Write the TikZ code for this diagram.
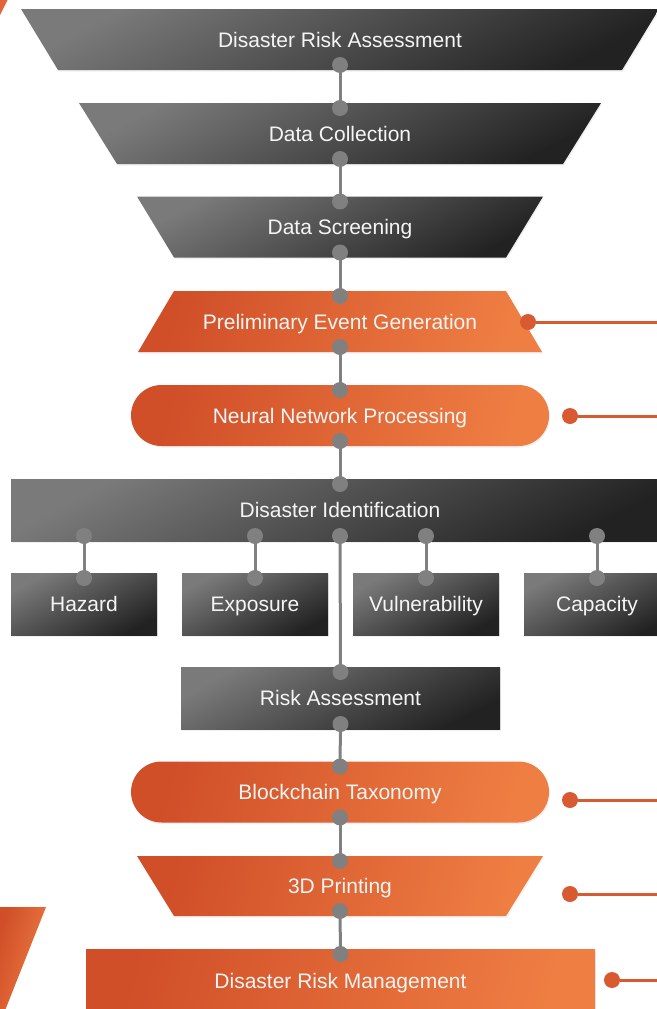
\documentclass[tikz,border=0pt]{standalone}
\usepackage{fontspec}
\setmainfont{Liberation Sans}
\usetikzlibrary{calc,shapes.misc,shadows}

\definecolor{gtop}{RGB}{122,122,122}
\definecolor{gbot}{RGB}{34,34,34}
\definecolor{oleft}{RGB}{208,78,40}
\definecolor{oright}{RGB}{239,126,67}
\definecolor{omid}{RGB}{226,100,55}
\definecolor{connc}{RGB}{128,128,128}
\definecolor{markc}{RGB}{216,90,48}
\definecolor{txt}{RGB}{245,245,245}

\begin{document}
\begin{tikzpicture}[x=1pt,y=-1pt,
  shd/.style={drop shadow={shadow xshift=1pt,shadow yshift=-1.5pt,opacity=0.12}},
  gshade/.style={top color=gtop,bottom color=gbot,shading angle=28},
  oshade/.style={left color=oleft,right color=oright,shading angle=75},
  lbl/.style={text=txt,font=\fontsize{21}{25}\selectfont,inner sep=0pt,outer sep=0pt,
    text height=15.5pt,text depth=0pt,align=center},
  gbox/.style={lbl,rectangle,gshade,shd},
  obox/.style={lbl,rectangle,oshade,shd},
  opill/.style={lbl,rounded rectangle,oshade,shd},
  link/.style={draw=connc,line width=3pt},
  cdot/.style={circle,fill=connc,minimum size=16pt,inner sep=0pt,outer sep=0pt},
  mdot/.style={circle,fill=markc,minimum size=16pt,inner sep=0pt,outer sep=0pt},
  mline/.style={draw=markc,line width=3pt}]

\useasboundingbox (0,0) rectangle (656,1009);

% decorative orange pieces
\fill[omid] (-1,-1) -- (8,-1) -- (-1,17) -- cycle;
\path[oshade] (-1,907) -- (46,907) -- (4,1013) -- (-1,1013) -- cycle;

% trapezoid backgrounds
\path[gshade,shd] (21,9) -- (659,9) -- (622,70) -- (58,70) -- cycle;
\path[gshade,shd] (79,103) -- (601,103) -- (563,164) -- (117,164) -- cycle;
\path[gshade,shd] (137,196.5) -- (543,196.5) -- (506,257.5) -- (174,257.5) -- cycle;
\path[oshade,shd] (174,291) -- (506,291) -- (542,352) -- (138,352) -- cycle;
\path[oshade,shd] (137,856) -- (543,856) -- (506,916) -- (174,916) -- cycle;

% nodes
\node[lbl,minimum width=564,minimum height=61] (dra) at (340,39.5) {Disaster Risk Assessment};
\node[lbl,minimum width=446,minimum height=61] (dc) at (340,133.5) {Data Collection};
\node[lbl,minimum width=332,minimum height=61] (ds) at (340,227) {Data Screening};
\node[lbl,minimum width=332,minimum height=61] (peg) at (340,321.5) {Preliminary Event Generation};
\node[opill,minimum width=418,minimum height=61] (nnp) at (340,415.5) {Neural Network Processing};
\node[gbox,minimum width=658,minimum height=62] (di) at (340,510) {Disaster Identification};
\node[gbox,minimum width=146,minimum height=62] (haz) at (84,604) {Hazard};
\node[gbox,minimum width=146,minimum height=62] (exp) at (255,604) {Exposure};
\node[gbox,minimum width=146,minimum height=62] (vul) at (426,604) {Vulnerability};
\node[gbox,minimum width=146,minimum height=62] (cap) at (597,604) {Capacity};
\node[gbox,minimum width=319,minimum height=62] (ra) at (340.5,698) {Risk Assessment};
\node[opill,minimum width=418,minimum height=61] (bt) at (340,792) {Blockchain Taxonomy};
\node[lbl,minimum width=332,minimum height=60] (tdp) at (340,886) {3D Printing};
\node[obox,minimum width=509,minimum height=64] (drm) at (340.5,981) {Disaster Risk Management};

% gray connectors with end dots
\newcommand\linkpair[2]{%
  \draw[link] #1 -- #2;
  \node[cdot] at #1 {};
  \node[cdot] at #2 {};}
\linkpair{($(dra.south)+(0,-5)$)}{($(dc.north)+(0,5)$)}
\linkpair{($(dc.south)+(0,-5)$)}{($(ds.north)+(0,5)$)}
\linkpair{($(ds.south)+(0,-5)$)}{($(peg.north)+(0,5)$)}
\linkpair{($(peg.south)+(0,-5)$)}{($(nnp.north)+(0,5)$)}
\linkpair{($(nnp.south)+(0,-5)$)}{($(di.north)+(0,5)$)}
\linkpair{($(haz.north |- di.south)+(0,-5)$)}{($(haz.north)+(0,5)$)}
\linkpair{($(exp.north |- di.south)+(0,-5)$)}{($(exp.north)+(0,5)$)}
\linkpair{($(vul.north |- di.south)+(0,-5)$)}{($(vul.north)+(0,5)$)}
\linkpair{($(cap.north |- di.south)+(0,-5)$)}{($(cap.north)+(0,5)$)}
\linkpair{($(di.south)+(0,-5)$)}{($(ra.north)+(0,5)$)}
\linkpair{($(ra.south)+(0,-5)$)}{($(bt.north)+(0,5)$)}
\linkpair{($(bt.south)+(0,-5)$)}{($(tdp.north)+(0,5)$)}
\linkpair{($(tdp.south)+(0,-5)$)}{($(drm.north)+(0,5)$)}

% orange side markers
\node[mdot] (m1) at (528,322) {};
\node[mdot] (m2) at (570,416) {};
\node[mdot] (m3) at (570,800) {};
\node[mdot] (m4) at (570,894) {};
\node[mdot] (m5) at (612,980) {};
\coordinate (e1) at (660,322);
\coordinate (e2) at (660,416);
\coordinate (e3) at (660,800);
\coordinate (e4) at (660,894);
\coordinate (e5) at (660,980);
\draw[mline] (m1) -- (e1);
\draw[mline] (m2) -- (e2);
\draw[mline] (m3) -- (e3);
\draw[mline] (m4) -- (e4);
\draw[mline] (m5) -- (e5);
\end{tikzpicture}
\end{document}
